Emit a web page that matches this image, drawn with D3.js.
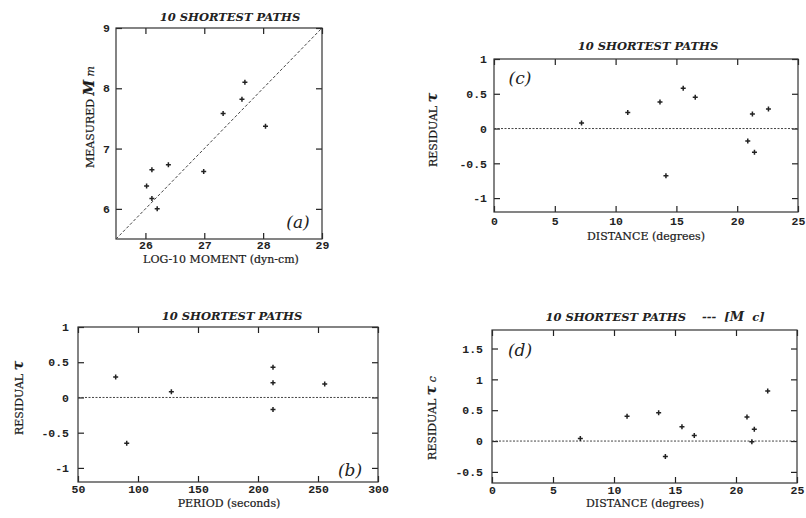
<!DOCTYPE html>
<html>
<head>
<meta charset="utf-8">
<script src="https://cdn.jsdelivr.net/npm/d3@7"></script>
<style>
  body { margin: 0; background: #fff; }
  svg { display: block; }
  .tick text { font-family: "Liberation Mono", "DejaVu Sans Mono", monospace; font-size: 11.5px; font-weight: bold; fill: #222; }
  .tick line { stroke: #222; stroke-width: 1.2; }
  .ttl { font-family: "DejaVu Serif", serif; font-style: italic; font-weight: bold; font-size: 11.5px; fill: #222; }
  .lab { font-family: "DejaVu Serif", serif; font-size: 11px; fill: #1a1a1a; stroke: #1a1a1a; stroke-width: 0.2; }
  .tag { font-family: "DejaVu Serif", serif; font-style: italic; font-size: 17px; fill: #222; }
</style>
</head>
<body>
<div id="chart"></div>
<script>
// panel (a): log moment vs measured M_m
var momentA = [26.11, 26.02, 26.11, 26.2, 26.39, 26.99, 27.32, 27.64, 27.69, 28.04];
var measuredA = [6.65, 6.38, 6.17, 6.0, 6.73, 6.62, 7.58, 7.82, 8.1, 7.37];
var xTicksA = [26, 27, 28, 29];
var yTicksA = [6, 7, 8, 9];

// panel (b): period vs residual
var periodB = [81.4, 90.6, 127.8, 212.5, 212.5, 212.5, 255.6];
var residB = [0.29, -0.65, 0.08, 0.43, 0.21, -0.17, 0.19];
var xTicksB = [50, 100, 150, 200, 250, 300];
var yTicksB = [-1, -0.5, 0, 0.5, 1];

// panel (c): distance vs residual
var distC = [7.2, 11.0, 13.65, 14.14, 15.56, 16.55, 20.87, 21.25, 21.42, 22.57];
var residC = [0.08, 0.23, 0.38, -0.68, 0.58, 0.45, -0.18, 0.21, -0.34, 0.28];
var xTicksC = [0, 5, 10, 15, 20, 25];
var yTicksC = [-1, -0.5, 0, 0.5, 1];

// panel (d): distance vs residual with M_c
var distD = [7.24, 11.07, 13.66, 14.21, 15.57, 16.58, 20.9, 21.3, 21.5, 22.6];
var residD = [0.04, 0.40, 0.46, -0.25, 0.23, 0.09, 0.39, -0.01, 0.19, 0.81];
var xTicksD = [0, 5, 10, 15, 20, 25];
var yTicksD = [-0.5, 0, 0.5, 1, 1.5];

var svg = d3.select("#chart").append("svg")
  .attr("width", 806)
  .attr("height", 518);

var fmt = function (d) { return String(d); };

function panel(o) {
  var g = svg.append("g");
  var x = d3.scaleLinear().domain(o.xd).range([o.l, o.r]);
  var y = d3.scaleLinear().domain(o.yd).range([o.b, o.t]);

  g.append("g").attr("transform", "translate(0," + o.b + ")")
    .call(d3.axisBottom(x).tickValues(o.xt).tickFormat(fmt).tickSize(-6).tickPadding(o.xp || 3));
  g.append("g").attr("transform", "translate(0," + o.t + ")")
    .call(d3.axisTop(x).tickValues(o.xt).tickFormat("").tickSize(-6));
  g.append("g").attr("transform", "translate(" + o.l + ",0)")
    .call(d3.axisLeft(y).tickValues(o.yt).tickFormat(fmt).tickSize(-6).tickPadding(o.yp || 8));
  g.append("g").attr("transform", "translate(" + o.r + ",0)")
    .call(d3.axisRight(y).tickValues(o.yt).tickFormat("").tickSize(-6));
  g.selectAll(".domain").remove();

  g.append("rect")
    .attr("x", o.l).attr("y", o.t)
    .attr("width", o.r - o.l).attr("height", o.b - o.t)
    .attr("fill", "none").attr("stroke", "#333").attr("stroke-width", 1.2);

  // reference line
  var ref = o.diag ? [[o.xd[0], o.yd[0]], [o.xd[1], o.yd[1]]] : [[o.xd[0], 0], [o.xd[1], 0]];
  g.append("path")
    .attr("d", d3.line().x(function (d) { return x(d[0]); }).y(function (d) { return y(d[1]); })(ref))
    .attr("fill", "none").attr("stroke", "#444").attr("stroke-width", 1)
    .attr("stroke-dasharray", o.diag ? "3,2" : "2,1.5");

  g.selectAll(".pt").data(o.xs).enter().append("path")
    .attr("class", "pt")
    .attr("transform", function (d, i) { return "translate(" + x(d) + "," + y(o.ys[i]) + ")"; })
    .attr("d", "M-2.5,0H2.5M0,-2.5V2.5")
    .attr("stroke", "#222").attr("stroke-width", 1.5);

  return g;
}

var ga = panel({ l: 116, r: 322, t: 28, b: 239, xd: [25.5, 29], yd: [5.5, 9], xt: xTicksA, yt: yTicksA, xs: momentA, ys: measuredA, diag: true, yp: 6, xp: 2 });
var gb = panel({ l: 78, r: 378, t: 327, b: 482, xd: [50, 300], yd: [-1.2, 1], xt: xTicksB, yt: yTicksB, xs: periodB, ys: residB, yp: 9 });
var gc = panel({ l: 494, r: 798, t: 59, b: 212, xd: [0, 25], yd: [-1.2, 1], xt: xTicksC, yt: yTicksC, xs: distC, ys: residC, yp: 7, xp: 5 });
var gd = panel({ l: 492, r: 797, t: 330, b: 483, xd: [0, 25], yd: [-0.68, 1.8], xt: xTicksD, yt: yTicksD, xs: distD, ys: residD, yp: 9 });

// titles
svg.append("text").attr("class", "ttl").attr("x", 230).attr("y", 21).attr("text-anchor", "middle").text("10 SHORTEST PATHS");
svg.append("text").attr("class", "ttl").attr("x", 648).attr("y", 50).attr("text-anchor", "middle").text("10 SHORTEST PATHS");
svg.append("text").attr("class", "ttl").attr("x", 232).attr("y", 320).attr("text-anchor", "middle").text("10 SHORTEST PATHS");
var td = svg.append("text").attr("class", "ttl").attr("x", 655).attr("y", 321).attr("text-anchor", "middle")
  .attr("xml:space", "preserve");
td.append("tspan").text("10 SHORTEST PATHS    ---  [");
td.append("tspan").attr("font-size", 13).text("M");
td.append("tspan").text("  c]");

// x axis titles
svg.append("text").attr("class", "lab").attr("x", 221).attr("y", 263).attr("text-anchor", "middle").text("LOG-10 MOMENT (dyn-cm)");
svg.append("text").attr("class", "lab").attr("x", 646).attr("y", 240).attr("text-anchor", "middle").text("DISTANCE (degrees)");
svg.append("text").attr("class", "lab").attr("x", 229).attr("y", 507).attr("text-anchor", "middle").text("PERIOD (seconds)");
svg.append("text").attr("class", "lab").attr("x", 645).attr("y", 507).attr("text-anchor", "middle").text("DISTANCE (degrees)");

// y axis titles
function yTitle(cx, cy, main, sym, sub) {
  var t = svg.append("text").attr("class", "lab")
    .attr("transform", "translate(" + cx + "," + cy + ") rotate(-90)")
    .attr("text-anchor", "middle");
  t.append("tspan").text(main + "  ");
  t.append("tspan").attr("font-style", "italic").attr("font-weight", "bold").attr("font-size", 14).text(sym);
  if (sub) t.append("tspan").attr("font-style", "italic").text(" " + sub);
}
yTitle(94, 117, "MEASURED", "M", "m");
yTitle(437, 130, "RESIDUAL", "τ");
yTitle(23, 398, "RESIDUAL", "τ");
yTitle(436, 418, "RESIDUAL", "τ", "c");

// panel tags
svg.append("text").attr("class", "tag").attr("x", 298).attr("y", 228).attr("text-anchor", "middle").text("(a)");
svg.append("text").attr("class", "tag").attr("x", 350).attr("y", 476).attr("text-anchor", "middle").text("(b)");
svg.append("text").attr("class", "tag").attr("x", 520).attr("y", 84).attr("text-anchor", "middle").text("(c)");
svg.append("text").attr("class", "tag").attr("x", 520).attr("y", 356).attr("text-anchor", "middle").text("(d)");
</script>
</body>
</html>
